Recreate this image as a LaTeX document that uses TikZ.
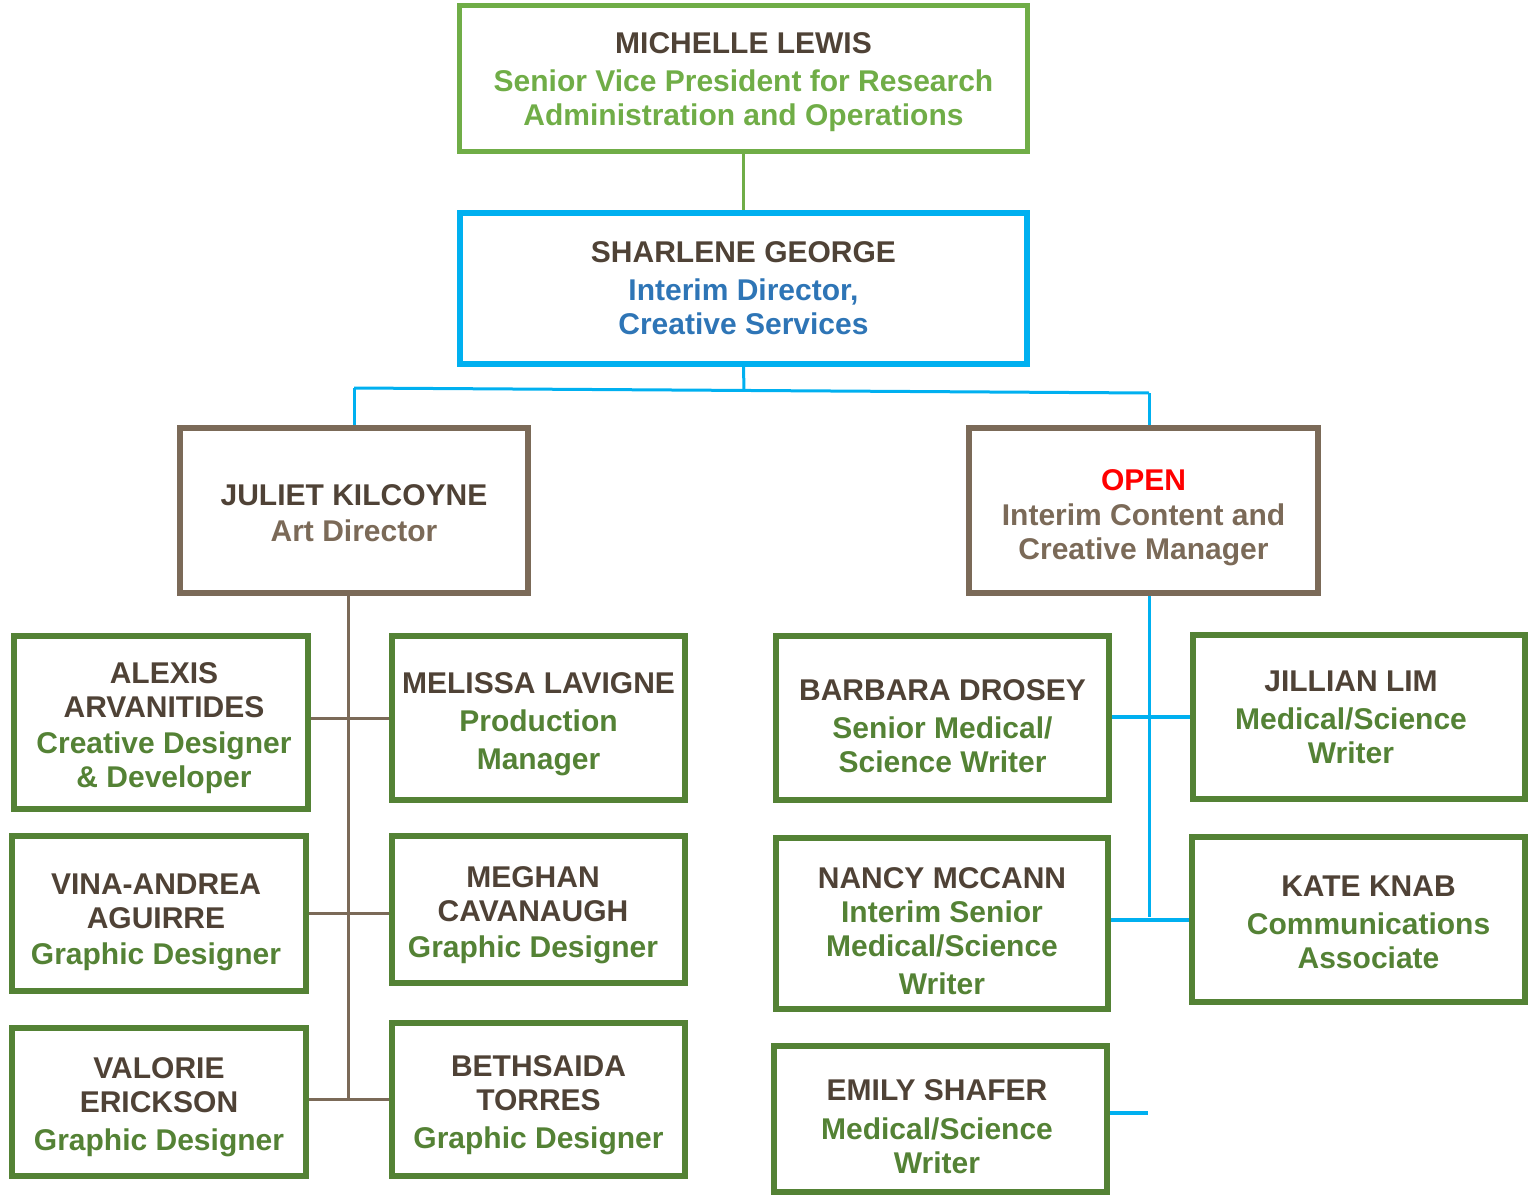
\documentclass[tikz,border=0pt]{standalone}
\usepackage{fontspec}
\setmainfont{Liberation Sans}
\definecolor{namec}{HTML}{4F4236}
\definecolor{lgreen}{HTML}{70AD47}
\definecolor{gdark}{HTML}{548235}
\definecolor{bline}{HTML}{00B0F0}
\definecolor{btitle}{HTML}{2E75B6}
\definecolor{brn}{HTML}{7B6A58}
\definecolor{openred}{HTML}{FF0000}
\newcommand{\nm}[1]{{\color{namec}#1}}
% push the text block down by #1 px (first-line strut)
\newcommand{\dn}[1]{\rule{0pt}{\dimexpr10.3pt+#1pt\relax}}
% shift a line sideways: \hs{h} moves it by h/2
\newcommand{\hs}[1]{\hspace*{#1}}
\tikzset{
  box/.style={draw, line width=3pt, align=center, inner sep=0pt,
    font=\fontsize{15}{17}\selectfont\bfseries},
  sz/.style 2 args={minimum width=#1*0.5pt, minimum height=#2*0.5pt},
  gbox/.style={box, draw=gdark, text=gdark},
  brbox/.style={box, draw=brn, text=brn},
  conn/.style={line width=1.5pt},
  bconn/.style={conn, draw=bline},
  brconn/.style={conn, draw=brn},
}
\begin{document}
\begin{tikzpicture}[x=0.5pt,y=-0.5pt]
\useasboundingbox (0,0) rectangle (1530,1198);

% top
\node[box, draw=lgreen, line width=2.5pt, text=lgreen, sz={568}{146}] (mich) at (743.5,78.5)
  {\dn{3.5}\nm{MICHELLE LEWIS}\\[2pt]Senior Vice President for Research\\Administration and Operations};
\node[box, draw=bline, text=btitle, sz={567}{151}] (shar) at (743.5,288.5)
  {\nm{SHARLENE GEORGE}\\[2pt]Interim Director,\\Creative Services};
\node[brbox, sz={348}{165}] (jul) at (354,510.5)
  {\dn{2.5}\nm{JULIET KILCOYNE}\\[1pt]Art Director};
\node[brbox, sz={349}{165}] (open) at (1143.5,510.5)
  {\dn{7.5}{\color{openred}OPEN}\\[0.5pt]Interim Content and\\Creative Manager};

% left team
\node[gbox, sz={294}{173}] (alex) at (161,722.5)
  {\dn{6}\hs{3pt}\nm{ALEXIS}\\\hs{3pt}\nm{ARVANITIDES}\\[1pt]\hs{3pt}Creative Designer\\\hs{3pt}\& Developer};
\node[gbox, sz={293}{164}] (mel) at (538.5,718)
  {\dn{6.5}\nm{MELISSA LAVIGNE}\\[2pt]Production\\[2pt]Manager};
\node[gbox, sz={294}{155}] (vina) at (159,913.5)
  {\dn{9}\hs{-3pt}\nm{VINA-ANDREA}\\\hs{-3pt}\nm{AGUIRRE}\\[1pt]\hs{-3pt}Graphic Designer};
\node[gbox, sz={293}{147}] (megh) at (538.5,909.5)
  {\dn{6}\hs{-5.5pt}\nm{MEGHAN}\\\hs{-5.5pt}\nm{CAVANAUGH}\\[1pt]\hs{-5.5pt}Graphic Designer};
\node[gbox, sz={294}{148}] (val) at (159,1102)
  {\dn{5.5}\nm{VALORIE}\\\nm{ERICKSON}\\[2pt]Graphic Designer};
\node[gbox, sz={293}{153}] (beth) at (538.5,1099.5)
  {\dn{5.5}\nm{BETHSAIDA}\\\nm{TORRES}\\[2pt]Graphic Designer};

% right team
\node[gbox, sz={333}{164}] (barb) at (942.5,718)
  {\dn{8}\nm{BARBARA DROSEY}\\[2pt]Senior Medical/\\Science Writer};
\node[gbox, sz={332}{164}] (jill) at (1359,717)
  {\hs{-8pt}\nm{JILLIAN LIM}\\[2pt]\hs{-8pt}Medical/Science\\\hs{-8pt}Writer};
\node[gbox, sz={332}{171}] (nancy) at (942,923.5)
  {\dn{8}\nm{NANCY MCCANN}\\Interim Senior\\Medical/Science\\[2pt]Writer};
\node[gbox, sz={333}{165}] (kate) at (1358.5,919.5)
  {\dn{3}\hs{10pt}\nm{KATE KNAB}\\[2pt]\hs{10pt}Communications\\\hs{10pt}Associate};
\node[gbox, sz={333}{146}] (emily) at (940.5,1119)
  {\dn{7.5}\hs{-3.5pt}\nm{EMILY SHAFER}\\[2.5pt]\hs{-3.5pt}Medical/Science\\\hs{-3.5pt}Writer};

% connectors
\draw[conn, draw=lgreen] (mich.south) -- (shar.north);
\coordinate (busM) at (744,390.5);
\coordinate (busL) at (354,388);
\coordinate (busR) at (1149,393);
\draw[bconn] (shar.south) -- (busM);
\draw[bconn] (busL) -- (busR);
\draw[bconn] (busL) -- (jul.north);
\draw[bconn] (busR) -- (busR |- open.north);

\coordinate (trunkL) at (348,1098);
\draw[brconn] (trunkL |- jul.south) -- (trunkL);
\draw[brconn] (mel.west) -- (mel.west -| alex.east);
\draw[brconn] (vina.east) -- (vina.east -| megh.west);
\draw[brconn] (beth.west) -- (beth.west -| val.east);

\coordinate (trunkR) at (1149,917);
\draw[bconn] (trunkR |- open.south) -- (trunkR);
\draw[bconn, line width=2pt] (jill.west) -- (jill.west -| barb.east);
\draw[bconn, line width=2pt] (kate.west) -- (kate.west -| nancy.east);
\coordinate (stub) at (1148,1113);
\draw[bconn, line width=2pt] (stub -| emily.east) -- (stub);
\end{tikzpicture}
\end{document}
